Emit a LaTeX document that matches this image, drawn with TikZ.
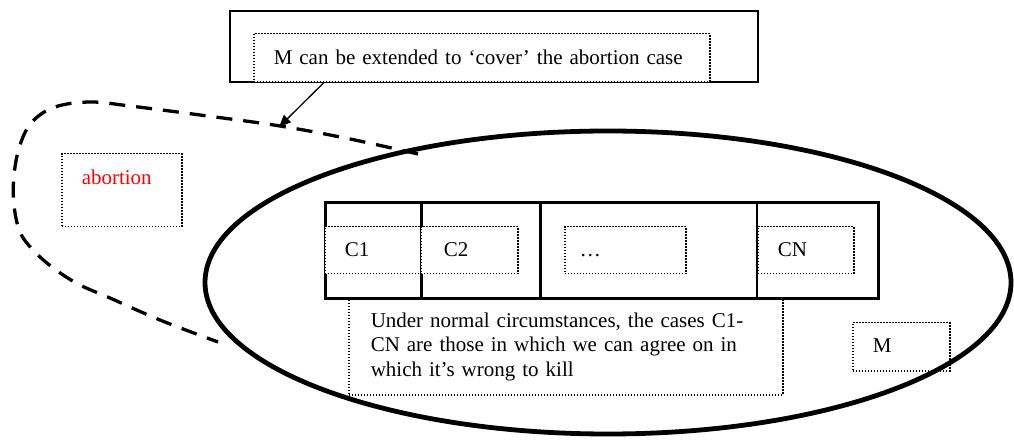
\documentclass[tikz,border=0pt]{standalone}
\usepackage{fontspec}
\setmainfont{Liberation Serif}
\usetikzlibrary{arrows.meta}
\begin{document}
\begin{tikzpicture}[x=1pt,y=-1pt,
  txt/.style={font=\fontsize{21}{24.2}\selectfont},
  dotbox/.style={draw, line width=1.5pt, dash pattern=on 1.5pt off 1.5pt, fill=white,
    anchor=north west, inner xsep=20pt, inner ysep=0pt, align=left, txt},
  solidbox/.style={draw, line width=1.8pt, anchor=north west, inner sep=0pt},
  tablebox/.style={draw, line width=3pt, anchor=north west, inner sep=0pt},
  divthick/.style={line width=3pt},
  divthin/.style={line width=1.4pt},
  arr/.style={line width=1.3pt, -{Triangle[length=12pt,width=10pt]}},
  dashcurve/.style={line width=3.3pt, dash pattern=on 16pt off 11pt},
  region/.style={line width=4.8pt}
]
\useasboundingbox (0,0) rectangle (1014,443);

% top callout
\node[solidbox, minimum width=528pt, minimum height=71pt] (top) at (229,10) {};
\node[dotbox, text width=416pt, text height=31pt, text depth=17pt] (ext) at (253,33)
  {\mbox{M can be extended to ‘cover’ the abortion case}};
\coordinate (tip) at (279,127);
\draw[arr] ([xshift=71pt]ext.south west) -- (tip);

% dashed extension region
\draw[dashcurve] plot[smooth, tension=0.6] coordinates {(418,154) (350,139) (280,126) (200,115) (130,106) (90,102) (55,107) (32,122) (20,145) (14,175) (14,205) (20,232) (33,250) (52,267) (78,284) (110,298) (160,320) (218,342)};

% table of cases
\node[tablebox, minimum width=553pt, minimum height=96pt] (table) at (324,201) {};
\draw[divthick] ([xshift=97pt]table.north west) -- ([xshift=97pt]table.south west);
\draw[divthick] ([xshift=216pt]table.north west) -- ([xshift=216pt]table.south west);
\draw[divthin] ([xshift=433pt]table.north west) -- ([xshift=433pt]table.south west);

\node[dotbox, text width=56pt, text height=30pt, text depth=17pt] (c1) at (324,226) {C1};
\node[dotbox, inner xsep=23pt, text width=51pt, text height=30pt, text depth=17pt] (c2) at (420,226) {C2};
\node[dotbox, inner xsep=15pt, text width=91pt, text height=30pt, text depth=17pt] (dots) at (564,226) {…};
\node[dotbox, text width=56pt, text height=30pt, text depth=17pt] (cn) at (757,226) {CN};

% explanation
\node[dotbox, inner xsep=22pt, text width=390pt, text height=28pt, text depth=67pt] (expl) at (348,299)
  {Under normal circumstances, the cases C1-\\CN are those in which we can agree on in\\which it’s wrong to kill};

\node[dotbox, text width=57pt, text height=30pt, text depth=18pt] (m) at (852,322) {M};

\node[dotbox, text width=80pt, text height=31pt, text depth=42pt, text=red] (abort) at (61,153) {abortion};

% region M
\draw[region] (608,282.5) ellipse [x radius=403, y radius=151.5];
\end{tikzpicture}
\end{document}
